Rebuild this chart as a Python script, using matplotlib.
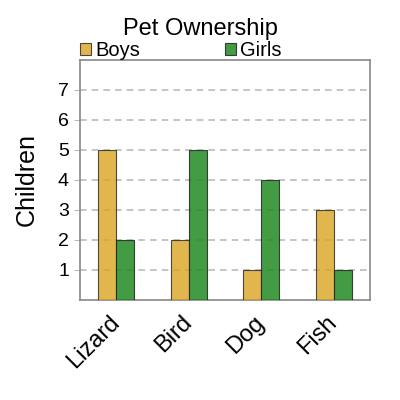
import matplotlib
matplotlib.use("Agg")
import matplotlib.pyplot as plt
import numpy as np

pets = ["Lizard", "Bird", "Dog", "Fish"]
boys = [5, 2, 1, 3]
girls = [2, 5, 4, 1]

plt.rcParams["font.family"] = ["Liberation Sans", "DejaVu Sans"]

fig = plt.figure(figsize=(4, 4), dpi=100)
ax = fig.add_axes([0.2, 0.25, 0.725, 0.6])

x = np.arange(len(pets))
w = 0.25
ax.bar(x - w / 2, boys, w, color="goldenrod", alpha=0.8, edgecolor="#222222",
       linewidth=0.8, label="Boys", zorder=3)
ax.bar(x + w / 2, girls, w, color="forestgreen", alpha=0.85, edgecolor="#222222",
       linewidth=0.8, label="Girls", zorder=3)

ax.set_xlim(-0.5, 3.5)
ax.set_ylim(0, 8)
ax.set_yticks(range(1, 8))
ax.yaxis.grid(True, linestyle=(0, (4, 3)), color="#bbbbbb", linewidth=1.2, zorder=0)
ax.set_xticks(x)
ax.set_xticklabels(pets, rotation=45, ha="right", va="center",
                   rotation_mode="anchor", fontsize=17)
ax.tick_params(axis="y", labelsize=14, length=4, color="#bbbbbb", pad=4)
ax.tick_params(axis="x", length=0, pad=14)
for s in ax.spines.values():
    s.set_color("#888888")
    s.set_linewidth(1.2)

ax.set_ylabel("Children", fontsize=18, labelpad=14)
fig.suptitle("Pet Ownership", fontsize=17, x=0.5, y=0.955)
ax.legend(loc="lower left", bbox_to_anchor=(0, 1.0), ncol=2,
          frameon=False, fontsize=14.5, handlelength=0.55, handleheight=0.55,
          handletextpad=0.2, columnspacing=4.2, borderaxespad=0, borderpad=0)

fig.savefig("out.png", dpi=100)
